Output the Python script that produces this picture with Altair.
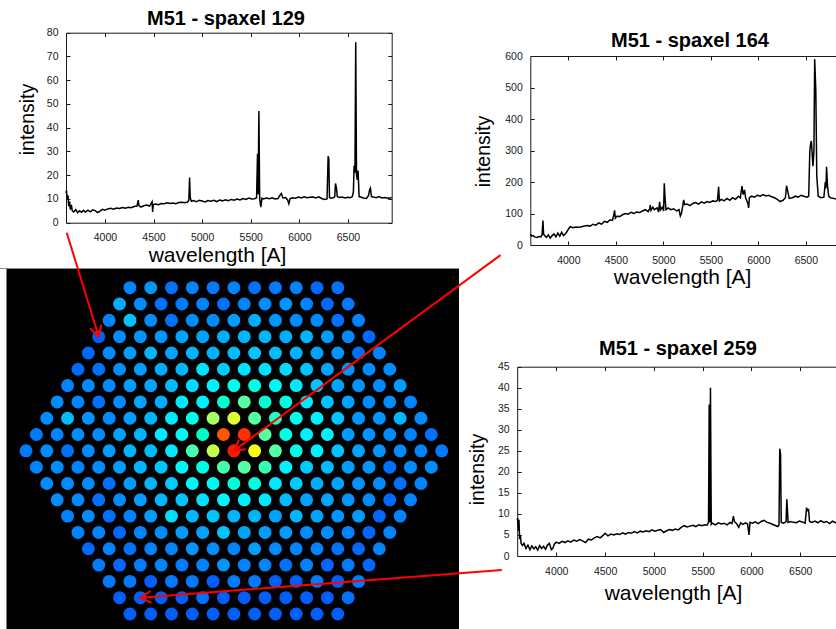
import math
import altair as alt
import pandas as pd

W, H = 836, 629
FONT = "Liberation Sans"

# ---------------- spectra: (wavelength [A], intensity) ----------------
spec_129 = [
    (3600, 12.5), (3605, 13.5), (3612, 10), (3620, 11.5), (3628, 7), (3636, 9), (3645, 5.5),
    (3655, 7.5), (3665, 5), (3680, 4.5), (3700, 5.5), (3720, 4.2), (3740, 5.0), (3760, 4.4),
    (3780, 5.2), (3800, 4.5), (3825, 5.3), (3850, 4.6), (3875, 5.4), (3900, 5.1), (3925, 4.3),
    (3950, 4.9), (3975, 5.6), (4000, 5.3), (4030, 5.8), (4060, 6.1), (4090, 5.7), (4120, 6.2),
    (4150, 6.0), (4180, 6.4), (4210, 6.1), (4240, 6.5), (4270, 6.3), (4300, 6.8), (4330, 7.0),
    (4343, 9.5), (4350, 7.2), (4370, 6.6), (4400, 7.1), (4430, 7.4), (4460, 7.0), (4486, 8.8),
    (4491, 4.5), (4498, 7.6), (4520, 7.9), (4550, 7.6), (4580, 8.1), (4610, 8.0), (4640, 8.4),
    (4670, 8.1), (4700, 8.3), (4730, 8.0), (4760, 8.5), (4790, 8.6), (4820, 8.4), (4850, 8.7),
    (4864, 9.5), (4871, 19), (4878, 10.5), (4890, 9.0), (4910, 9.3), (4940, 8.8), (4970, 9.4),
    (5000, 9.1), (5030, 8.7), (5060, 9.3), (5090, 9.0), (5120, 9.4), (5150, 8.9), (5180, 9.5),
    (5210, 9.2), (5240, 9.6), (5270, 9.3), (5300, 9.8), (5330, 9.5), (5360, 10.0), (5390, 9.6),
    (5420, 10.2), (5450, 9.8), (5480, 10.4), (5510, 10.0), (5540, 10.1), (5560, 10.5), (5570, 29),
    (5576, 12), (5584, 47), (5592, 10), (5604, 6.5), (5615, 10.3), (5630, 10.0), (5660, 10.4),
    (5690, 10.1), (5720, 10.5), (5750, 10.0), (5780, 10.2), (5805, 11.8), (5815, 12.3),
    (5830, 10.4), (5860, 10.6), (5880, 9.5), (5892, 8.0), (5905, 10.2), (5930, 10.5),
    (5960, 10.3), (5990, 10.8), (6020, 10.4), (6050, 10.9), (6080, 10.5), (6110, 10.7),
    (6140, 10.8), (6170, 10.4), (6200, 10.9), (6230, 10.2), (6260, 9.8), (6285, 10.0),
    (6296, 28), (6303, 27), (6310, 10.6), (6325, 10.3), (6350, 10.5), (6364, 11), (6372, 16.5),
    (6382, 14.5), (6390, 11.0), (6410, 10.6), (6440, 10.8), (6470, 10.4), (6500, 10.7),
    (6525, 10.5), (6545, 11.0), (6556, 13), (6563, 24), (6572, 21), (6580, 76), (6588, 20),
    (6596, 18), (6604, 22), (6615, 11), (6630, 10.8), (6660, 10.4), (6690, 10.2), (6712, 11.5),
    (6722, 13.8), (6731, 14.5), (6742, 11), (6760, 10.8), (6790, 10.5), (6820, 11.0),
    (6850, 10.4), (6880, 10.6), (6910, 10.3), (6950, 10.5),
]

spec_164 = [
    (3600, 35), (3615, 28), (3630, 30), (3650, 25), (3670, 24), (3690, 27), (3710, 26),
    (3724, 32), (3733, 78), (3740, 35), (3750, 30), (3770, 24), (3790, 32), (3810, 22),
    (3830, 30), (3850, 35), (3870, 26), (3890, 38), (3910, 28), (3930, 40), (3950, 30),
    (3970, 36), (3985, 42), (4000, 50), (4020, 58), (4050, 55), (4080, 57), (4110, 56),
    (4140, 58), (4170, 60), (4200, 62), (4230, 60), (4260, 66), (4290, 63), (4320, 70),
    (4350, 66), (4380, 75), (4410, 72), (4440, 80), (4465, 78), (4478, 95), (4487, 110),
    (4495, 85), (4515, 92), (4540, 90), (4570, 96), (4600, 100), (4630, 98), (4660, 104),
    (4690, 100), (4720, 105), (4750, 103), (4780, 108), (4810, 112), (4840, 106), (4856, 115),
    (4863, 127), (4870, 110), (4890, 120), (4905, 112), (4935, 118), (4950, 105), (4961, 137),
    (4970, 112), (4990, 120), (5003, 108), (5010, 196), (5018, 150), (5028, 112), (5050, 118),
    (5080, 112), (5110, 115), (5140, 108), (5165, 112), (5179, 92), (5190, 100), (5205, 125),
    (5214, 143), (5225, 128), (5250, 130), (5280, 125), (5310, 132), (5340, 135), (5370, 130),
    (5400, 137), (5430, 133), (5460, 138), (5490, 135), (5520, 140), (5550, 138), (5570, 142),
    (5582, 185), (5590, 140), (5610, 145), (5640, 140), (5670, 148), (5700, 142), (5730, 150),
    (5760, 145), (5790, 155), (5810, 150), (5828, 187), (5840, 160), (5855, 175), (5866, 150),
    (5890, 132), (5898, 118), (5906, 150), (5930, 155), (5960, 152), (5990, 158), (6020, 155),
    (6050, 160), (6080, 156), (6110, 158), (6140, 153), (6170, 150), (6200, 145), (6230, 138),
    (6260, 142), (6285, 150), (6297, 188), (6310, 170), (6325, 148), (6360, 150), (6390, 155),
    (6420, 152), (6450, 158), (6480, 155), (6510, 152), (6530, 155), (6542, 300), (6550, 320),
    (6558, 330), (6575, 250), (6585, 300), (6593, 590), (6605, 490), (6615, 220), (6630, 155),
    (6660, 150), (6690, 152), (6705, 200), (6712, 180), (6718, 248), (6728, 190), (6740, 155),
    (6760, 150), (6790, 148), (6820, 146), (6850, 150), (6880, 145), (6910, 148), (6950, 145),
]

spec_259 = [
    (3600, 8.5), (3605, 9.0), (3612, 6.0), (3618, 8.6), (3625, 4.0), (3632, 5.0), (3640, 3.0),
    (3655, 2.5), (3670, 3.0), (3690, 1.8), (3710, 2.6), (3730, 1.5), (3750, 2.4), (3770, 1.7),
    (3790, 2.2), (3810, 1.4), (3830, 2.5), (3850, 1.8), (3870, 2.3), (3890, 1.6), (3910, 2.6),
    (3930, 3.0), (3950, 1.5), (3965, 1.8), (3980, 2.8), (4000, 3.3), (4030, 3.0), (4060, 3.5),
    (4090, 3.2), (4120, 3.6), (4150, 3.3), (4180, 3.8), (4210, 3.5), (4240, 3.9), (4270, 3.6),
    (4300, 3.2), (4330, 4.0), (4360, 3.8), (4390, 4.3), (4420, 4.6), (4450, 4.3), (4480, 4.9),
    (4500, 5.4), (4530, 4.8), (4560, 5.2), (4590, 5.0), (4620, 5.3), (4650, 5.1), (4680, 5.5),
    (4710, 5.2), (4740, 5.6), (4770, 5.4), (4800, 5.8), (4830, 5.5), (4860, 5.9), (4890, 5.7),
    (4920, 6.0), (4950, 5.8), (4980, 6.2), (5010, 5.9), (5040, 6.1), (5070, 6.3), (5100, 5.6),
    (5130, 6.0), (5160, 6.3), (5190, 6.1), (5220, 6.4), (5250, 6.2), (5280, 6.8), (5310, 7.2),
    (5340, 6.9), (5370, 7.1), (5400, 7.3), (5430, 7.0), (5460, 7.4), (5490, 7.2), (5520, 7.4),
    (5545, 7.3), (5560, 8.0), (5567, 36), (5574, 8.0), (5580, 40), (5588, 7.5), (5600, 7.8),
    (5630, 7.4), (5660, 7.9), (5690, 7.6), (5720, 7.8), (5750, 7.4), (5780, 8.0), (5800, 7.7),
    (5815, 9.5), (5825, 8.2), (5850, 7.6), (5870, 6.8), (5890, 7.9), (5910, 7.5), (5940, 7.9),
    (5960, 7.6), (5975, 5.0), (5985, 8.0), (6010, 7.8), (6040, 8.1), (6070, 7.7), (6100, 8.2),
    (6130, 8.5), (6160, 8.0), (6190, 7.8), (6220, 7.5), (6250, 7.2), (6270, 7.0), (6282, 7.4),
    (6290, 25.5), (6298, 24.2), (6305, 8.0), (6330, 7.8), (6355, 8.2), (6362, 13.5),
    (6368, 11.2), (6375, 8.0), (6400, 8.2), (6430, 8.0), (6460, 7.9), (6490, 8.3), (6520, 8.1),
    (6550, 7.8), (6565, 11.5), (6575, 10.8), (6585, 11.0), (6595, 8.2), (6620, 8.0),
    (6650, 8.3), (6680, 7.9), (6710, 8.4), (6740, 8.0), (6770, 8.2), (6800, 7.7), (6830, 8.3),
    (6860, 7.9), (6890, 8.1), (6920, 7.8), (6950, 8.0),
]

x_ticks = [4000, 4500, 5000, 5500, 6000, 6500]

# ---------------- PPak spaxel intensities, hexagon rows from top to bottom ----------------
map_rows = [
    [0.23, 0.25, 0.21, 0.23, 0.22, 0.23, 0.21, 0.22, 0.23, 0.20, 0.21],
    [0.28, 0.24, 0.21, 0.22, 0.23, 0.21, 0.23, 0.24, 0.25, 0.23, 0.20, 0.22],
    [0.23, 0.31, 0.24, 0.21, 0.24, 0.24, 0.26, 0.28, 0.25, 0.24, 0.24, 0.21, 0.23],
    [0.19, 0.24, 0.25, 0.25, 0.27, 0.27, 0.28, 0.29, 0.29, 0.28, 0.29, 0.26, 0.24, 0.20],
    [0.20, 0.24, 0.26, 0.29, 0.27, 0.29, 0.29, 0.30, 0.31, 0.30, 0.29, 0.27, 0.25, 0.21, 0.23],
    [0.20, 0.21, 0.24, 0.26, 0.28, 0.29, 0.35, 0.32, 0.35, 0.35, 0.34, 0.31, 0.27, 0.25, 0.24, 0.24],
    [0.23, 0.24, 0.24, 0.26, 0.27, 0.30, 0.34, 0.37, 0.41, 0.43, 0.39, 0.36, 0.31, 0.27, 0.25, 0.24, 0.26],
    [0.24, 0.23, 0.21, 0.24, 0.27, 0.28, 0.36, 0.37, 0.45, 0.50, 0.45, 0.43, 0.36, 0.31, 0.27, 0.24, 0.24, 0.23],
    [0.24, 0.30, 0.25, 0.24, 0.26, 0.29, 0.36, 0.42, 0.56, 0.60, 0.50, 0.47, 0.42, 0.37, 0.31, 0.25, 0.25, 0.29, 0.24],
    [0.22, 0.23, 0.24, 0.24, 0.27, 0.29, 0.36, 0.40, 0.46, 0.83, 0.86, 0.50, 0.43, 0.37, 0.37, 0.26, 0.25, 0.24, 0.23, 0.21],
    [0.22, 0.24, 0.21, 0.24, 0.26, 0.29, 0.30, 0.36, 0.49, 0.58, 0.87, 0.62, 0.50, 0.42, 0.37, 0.31, 0.27, 0.25, 0.24, 0.23, 0.22],
    [0.23, 0.24, 0.23, 0.24, 0.26, 0.29, 0.31, 0.39, 0.42, 0.49, 0.50, 0.48, 0.37, 0.32, 0.30, 0.26, 0.25, 0.21, 0.24, 0.24],
    [0.24, 0.24, 0.24, 0.21, 0.26, 0.29, 0.32, 0.39, 0.40, 0.44, 0.43, 0.36, 0.32, 0.28, 0.27, 0.25, 0.24, 0.21, 0.23],
    [0.24, 0.24, 0.21, 0.24, 0.26, 0.29, 0.31, 0.35, 0.38, 0.37, 0.36, 0.30, 0.27, 0.27, 0.25, 0.24, 0.20, 0.23],
    [0.23, 0.24, 0.21, 0.23, 0.26, 0.34, 0.29, 0.31, 0.29, 0.29, 0.27, 0.29, 0.27, 0.25, 0.26, 0.20, 0.23],
    [0.23, 0.23, 0.20, 0.23, 0.24, 0.26, 0.27, 0.31, 0.27, 0.26, 0.26, 0.24, 0.24, 0.23, 0.20, 0.23],
    [0.20, 0.23, 0.21, 0.23, 0.23, 0.25, 0.24, 0.23, 0.26, 0.24, 0.23, 0.23, 0.21, 0.20, 0.23],
    [0.22, 0.20, 0.22, 0.23, 0.22, 0.23, 0.25, 0.23, 0.23, 0.21, 0.23, 0.20, 0.22, 0.20],
    [0.22, 0.22, 0.19, 0.22, 0.22, 0.19, 0.22, 0.22, 0.19, 0.19, 0.22, 0.19, 0.22],
    [0.19, 0.19, 0.19, 0.19, 0.21, 0.19, 0.19, 0.19, 0.19, 0.19, 0.19, 0.21],
    [0.19, 0.19, 0.19, 0.19, 0.19, 0.19, 0.19, 0.19, 0.19, 0.19, 0.19],
]

# spaxels the arrows point at: (row, position in row), and where each arrow starts (hex units)
picked = [(3, 0), (10, 10), (19, 1)]
arrow_tails = [(-8.04, -3.37), (12.83, -2.0), (12.89, 17.30)]

# jet-like colour map with a slightly muted blue end
jet_stops = [0.0, 0.125, 0.375, 0.625, 0.875, 1.0]
jet_colors = ["#000070", "#0000c8", "#00f4ff", "#ffff00", "#ff0000", "#7f0000"]

# ---------------- layout ----------------
HEX_X = (26.0, 441.7)    # pixel span of the widest row (u = -10 .. 10)
HEX_Y = (287.7, 614.0)   # pixel span of rows 0 .. 20

panels = [
    dict(data=spec_129, label="M51 - spaxel 129", ymax=80, ystep=10,
         xr=(66.0, 391.7), yr=(222.7, 32.7), head=(226, 19),
         xtitle=(217, 255), ytitle=(27, 119)),
    dict(data=spec_164, label="M51 - spaxel 164", ymax=600, ystep=100,
         xr=(530.3, 848.6), yr=(245.0, 56.0), head=(690, 41),
         xtitle=(682, 277), ytitle=(483, 151)),
    dict(data=spec_259, label="M51 - spaxel 259", ymax=45, ystep=5,
         xr=(517.2, 844.2), yr=(556.0, 366.7), head=(678, 349),
         xtitle=(673, 593), ytitle=(477, 469)),
]

one_row = alt.Data(values=[{"k": 0}])


def spectrum_layers(p):
    df = pd.DataFrame(p["data"], columns=["wl", "flux"])
    x0, x1 = p["xr"]
    yb, yt = p["yr"]
    y_ticks = list(range(0, p["ymax"] + 1, p["ystep"]))

    def xs():
        return alt.Scale(domain=[3600, 6950], range=[x0, x1], nice=False, zero=False)

    def ys():
        return alt.Scale(domain=[0, p["ymax"]], range=[yb, yt], nice=False, zero=False)

    main = alt.Chart(df).mark_line(color="black", strokeWidth=1.5).encode(
        x=alt.X("wl:Q", scale=xs(), axis=alt.Axis(
            orient="bottom", offset=yb - H, values=x_ticks, format="d", ticks=False,
            tickSize=0, labelPadding=10, domain=True, title="wavelength [A]",
            titleX=p["xtitle"][0], titleY=p["xtitle"][1] - yb,
            titleAlign="center", titleBaseline="middle", titleFontSize=21)),
        y=alt.Y("flux:Q", scale=ys(), axis=alt.Axis(
            orient="left", offset=-x0, values=y_ticks, format="d", ticks=False, tickSize=0,
            labelPadding=8, domain=True, title="intensity", titleAngle=270,
            titleX=p["ytitle"][0] - x0, titleY=p["ytitle"][1],
            titleAlign="center", titleBaseline="middle", titleFontSize=19.5)),
    )
    # inward ticks along the bottom and left edges
    inner_bl = alt.Chart(df).mark_line(opacity=0).encode(
        x=alt.X("wl:Q", scale=xs(), axis=alt.Axis(
            orient="top", offset=-yb, values=x_ticks, labels=False, domain=False,
            ticks=True, tickSize=4, title=None)),
        y=alt.Y("flux:Q", scale=ys(), axis=alt.Axis(
            orient="right", offset=x0 - W, values=y_ticks, labels=False, domain=False,
            ticks=True, tickSize=4, title=None)),
    )
    # frame and inward ticks along the top and right edges
    inner_tr = alt.Chart(df).mark_line(opacity=0).encode(
        x=alt.X("wl:Q", scale=xs(), axis=alt.Axis(
            orient="bottom", offset=yt - H, values=x_ticks, labels=False, domain=True,
            ticks=True, tickSize=4, title=None)),
        y=alt.Y("flux:Q", scale=ys(), axis=alt.Axis(
            orient="left", offset=-x1, values=y_ticks, labels=False, domain=True,
            ticks=True, tickSize=4, title=None)),
    )
    heading = alt.Chart(one_row).mark_text(
        font=FONT, fontSize=20, fontWeight="bold", align="center", baseline="middle",
        color="black",
    ).encode(x=alt.value(p["head"][0]), y=alt.value(p["head"][1]), text=alt.value(p["label"]))
    return [main, inner_bl, inner_tr, heading]


# ---------------- spaxel map ----------------
cells = []
for r, row in enumerate(map_rows):
    n = len(row)
    for i, val in enumerate(row):
        cells.append({"u": i - (n - 1) / 2, "v": r, "val": val})
cells = pd.DataFrame(cells)


def hx():
    return alt.Scale(domain=[-10, 10], range=list(HEX_X), nice=False, zero=False)


def hy():
    return alt.Scale(domain=[0, 20], range=list(HEX_Y), nice=False, zero=False)


def to_px(u, v):
    return (HEX_X[0] + (u + 10) / 20 * (HEX_X[1] - HEX_X[0]),
            HEX_Y[0] + v / 20 * (HEX_Y[1] - HEX_Y[0]))


arrows = []
for (r, i), (tu, tv) in zip(picked, arrow_tails):
    u = i - (len(map_rows[r]) - 1) / 2
    v = r
    (ax, ay), (bx, by) = to_px(tu, tv), to_px(u, v)
    ang = math.degrees(math.atan2(by - ay, bx - ax)) % 360
    arrows.append({"tu": tu, "tv": tv, "u": u, "v": v, "ang": ang})
arrows = pd.DataFrame(arrows)

backdrop = alt.Chart(one_row).mark_rect(color="black").encode(
    x=alt.value(6.5), x2=alt.value(459), y=alt.value(269), y2=alt.value(H))
edge = alt.Chart(one_row).mark_rule(color="#8c8c8c", strokeWidth=1).encode(
    x=alt.value(0), x2=alt.value(459), y=alt.value(268.5))

spaxels = alt.Chart(cells).mark_circle(size=168, opacity=1).encode(
    x=alt.X("u:Q", scale=hx(), axis=None),
    y=alt.Y("v:Q", scale=hy(), axis=None),
    color=alt.Color("val:Q", scale=alt.Scale(domain=jet_stops, range=jet_colors), legend=None),
)

shafts = alt.Chart(arrows).mark_rule(color="#ff0000", strokeWidth=2).encode(
    x=alt.X("tu:Q", scale=hx(), axis=None), x2="u:Q",
    y=alt.Y("tv:Q", scale=hy(), axis=None), y2="v:Q",
)
heads = alt.Chart(arrows).mark_point(
    shape="M-1,-0.55L0,0L-1,0.55", size=460, filled=False, color="#ff0000",
    strokeWidth=2, opacity=1,
).encode(
    x=alt.X("u:Q", scale=hx(), axis=None),
    y=alt.Y("v:Q", scale=hy(), axis=None),
    angle=alt.Angle("ang:Q", scale=None),
)

layers = [backdrop, edge, spaxels]
for p in panels:
    layers += spectrum_layers(p)
layers += [shafts, heads]

chart = alt.layer(*layers).resolve_scale(
    x="independent", y="independent", color="independent", angle="independent"
).resolve_axis(
    x="independent", y="independent"
).properties(
    width=W, height=H, padding=0, autosize=alt.AutoSizeParams(type="none"),
    background="white",
).configure_view(
    stroke=None
).configure_axis(
    labelFont=FONT, labelFontSize=10.5, labelColor="#1a1a1a",
    titleFont=FONT, titleFontWeight="normal", titleColor="black",
    tickColor="#1a1a1a", domainColor="#1a1a1a", grid=False,
)

chart.save("out.html", embed_options={"renderer": "svg", "actions": False})
